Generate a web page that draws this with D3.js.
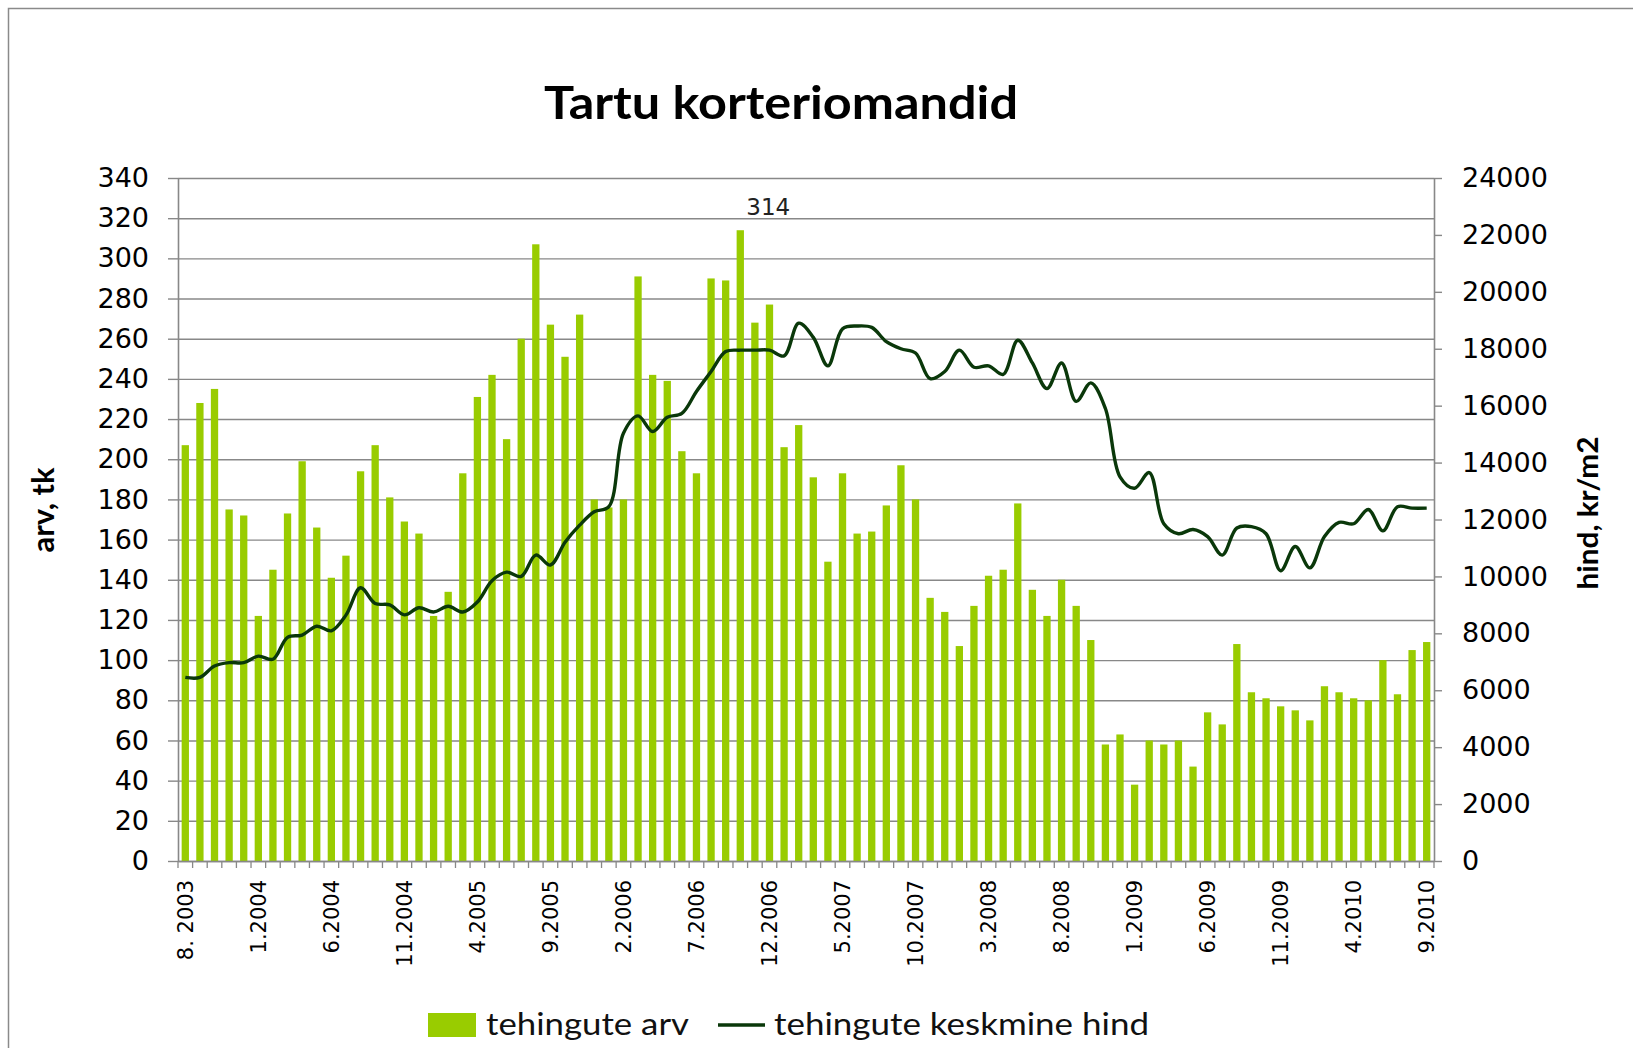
<!DOCTYPE html>
<html><head><meta charset="utf-8">
<script src="https://cdn.jsdelivr.net/npm/d3@7"></script>
<style>body{margin:0;background:#fff}svg{display:block}</style>
</head><body>
<svg id="c" width="1633" height="1048"></svg>
<script>
// ---- data ----
const months = [
 "8. 2003","9.2003","10.2003","11.2003","12.2003",
 "1.2004","2.2004","3.2004","4.2004","5.2004","6.2004","7.2004","8.2004","9.2004","10.2004","11.2004","12.2004",
 "1.2005","2.2005","3.2005","4.2005","5.2005","6.2005","7.2005","8.2005","9.2005","10.2005","11.2005","12.2005",
 "1.2006","2.2006","3.2006","4.2006","5.2006","6.2006","7.2006","8.2006","9.2006","10.2006","11.2006","12.2006",
 "1.2007","2.2007","3.2007","4.2007","5.2007","6.2007","7.2007","8.2007","9.2007","10.2007","11.2007","12.2007",
 "1.2008","2.2008","3.2008","4.2008","5.2008","6.2008","7.2008","8.2008","9.2008","10.2008","11.2008","12.2008",
 "1.2009","2.2009","3.2009","4.2009","5.2009","6.2009","7.2009","8.2009","9.2009","10.2009","11.2009","12.2009",
 "1.2010","2.2010","3.2010","4.2010","5.2010","6.2010","7.2010","8.2010","9.2010"
];
const tickLabels = ["8. 2003","1.2004","6.2004","11.2004","4.2005","9.2005","2.2006","7.2006","12.2006",
 "5.2007","10.2007","3.2008","8.2008","1.2009","6.2009","11.2009","4.2010","9.2010"];
const counts = [
 207,228,235,175,172,122,145,173,199,166,
 141,152,194,207,181,169,163,122,134,193,
 231,242,210,260,307,267,251,272,180,176,
 180,291,242,239,204,193,290,289,314,268,
 277,206,217,191,149,193,163,164,177,197,
 180,131,124,107,127,142,145,178,135,122,
 140,127,110,58,63,38,60,58,60,47,
 74,68,108,84,81,77,75,70,87,84,
 81,80,100,83,105,109
];
const prices = [
 6450,6450,6850,6970,6970,7200,7090,7860,7940,8250,
 8090,8640,9600,9050,9000,8650,8900,8750,8950,8750,
 9100,9850,10150,10000,10750,10400,11200,11800,12270,12450,
 15030,15640,15090,15590,15730,16500,17200,17900,17950,17950,
 17950,17750,18900,18400,17400,18700,18800,18750,18250,18000,
 17850,16950,17200,17950,17350,17400,17100,18300,17500,16600,
 17500,16150,16800,15900,13500,13100,13650,11850,11500,11650,
 11400,10750,11700,11750,11500,10200,11050,10300,11400,11900,
 11850,12350,11600,12450,12400,12400
];
const leftTicks = [0,20,40,60,80,100,120,140,160,180,200,220,240,260,280,300,320,340];
const rightTicks = [0,2000,4000,6000,8000,10000,12000,14000,16000,18000,20000,22000,24000];
const labelledIndex = 38;
const titleText = "Tartu korteriomandid";
const leftTitle = "arv, tk";
const rightTitle = "hind, kr/m2";
const seriesNames = ["tehingute arv","tehingute keskmine hind"];

// ---- layout ----
const W = 1633, H = 1048;
const m = {left:178, right:1434, top:178, bottom:861};
const barColor = "#99cc00", lineColor = "#0a380a", gridColor = "#888888";
const tickFont = "'DejaVu Sans', Verdana, sans-serif";
const textFont = "Lato, 'Open Sans', sans-serif";

const svg = d3.select("#c");
svg.append("rect").attr("width",W).attr("height",H).attr("fill","#fff");
svg.append("rect").attr("x",8.5).attr("y",8.5).attr("width",W).attr("height",H)
  .attr("fill","none").attr("stroke","#8a8a8a").attr("stroke-width",1.5);

const x = d3.scaleBand().domain(months).range([m.left,m.right]).paddingInner(0.5).paddingOuter(0.25);
const xc = d => x(d) + x.bandwidth()/2;
const yL = d3.scaleLinear().domain([0,340]).range([m.bottom,m.top]);
const yR = d3.scaleLinear().domain([0,24000]).range([m.bottom,m.top]);

// gridlines
const grid = svg.append("g").attr("transform",`translate(${m.left},0)`)
  .call(d3.axisLeft(yL).tickValues(leftTicks).tickSize(-(m.right-m.left)).tickFormat(""));
grid.select(".domain").remove();
grid.selectAll("line").attr("stroke",gridColor).attr("stroke-width",1.4);

// left axis
const ax = svg.append("g").attr("transform",`translate(${m.left},0)`)
  .call(d3.axisLeft(yL).tickValues(leftTicks).tickSize(10).tickSizeOuter(0).tickPadding(19));
ax.select(".domain").attr("stroke",gridColor).attr("stroke-width",1.6);
ax.selectAll("line").attr("stroke",gridColor).attr("stroke-width",1.4);
ax.selectAll("text").attr("font-family",tickFont).attr("font-size",27).attr("fill","#000");

// right axis
const ar = svg.append("g").attr("transform",`translate(${m.right},0)`)
  .call(d3.axisRight(yR).tickValues(rightTicks).tickFormat(d3.format("d")).tickSize(8).tickSizeOuter(0).tickPadding(20));
ar.select(".domain").attr("stroke",gridColor).attr("stroke-width",1.6);
ar.selectAll("line").attr("stroke",gridColor).attr("stroke-width",1.4);
ar.selectAll("text").attr("font-family",tickFont).attr("font-size",27).attr("fill","#000");

// bars
svg.append("g").selectAll("rect").data(counts).join("rect")
  .attr("x",(d,i)=>x(months[i])).attr("width",x.bandwidth())
  .attr("y",d=>yL(d)).attr("height",d=>yL(0)-yL(d)).attr("fill",barColor);

// x axis
const bx = svg.append("g").attr("transform",`translate(0,${m.bottom})`)
  .call(d3.axisBottom(x).tickValues(tickLabels).tickSize(0).tickSizeOuter(0));
bx.select(".domain").attr("stroke",gridColor).attr("stroke-width",1.6);
bx.selectAll("text").attr("font-family",tickFont).attr("font-size",21).attr("fill","#000")
  .attr("transform","rotate(-90)").attr("text-anchor","end").attr("x",-19).attr("y",0).attr("dy","0.36em");
// category boundary ticks
const bounds = months.map(d => x(d) - (x.step()-x.bandwidth())/2).concat([m.right]);
svg.append("g").selectAll("line").data(bounds).join("line")
  .attr("x1",d=>d).attr("x2",d=>d).attr("y1",m.bottom).attr("y2",m.bottom+7)
  .attr("stroke",gridColor).attr("stroke-width",1.3);

// line
const line = d3.line().x((d,i)=>xc(months[i])).y(d=>yR(d)).curve(d3.curveCatmullRom.alpha(0.5));
svg.append("path").datum(prices).attr("d",line).attr("fill","none")
  .attr("stroke",lineColor).attr("stroke-width",3.4).attr("stroke-linejoin","round");

// data label
svg.append("text").attr("x",xc(months[labelledIndex])+28).attr("y",yL(counts[labelledIndex])-15)
  .attr("text-anchor","middle").attr("font-family",tickFont).attr("font-size",23).attr("fill","#222")
  .text(counts[labelledIndex]);

// title
svg.append("text").attr("x",781).attr("y",119).attr("text-anchor","middle")
  .attr("font-family",textFont).attr("font-weight","bold").attr("font-size",46)
  .attr("textLength",474).attr("lengthAdjust","spacingAndGlyphs").attr("fill","#000").text(titleText);

// axis titles
svg.append("text").attr("transform","translate(54,510) rotate(-90)").attr("text-anchor","middle")
  .attr("font-family",textFont).attr("font-weight","bold").attr("font-size",30)
  .attr("textLength",85).attr("lengthAdjust","spacingAndGlyphs").text(leftTitle);
svg.append("text").attr("transform","translate(1598,513) rotate(-90)").attr("text-anchor","middle")
  .attr("font-family",textFont).attr("font-weight","bold").attr("font-size",29)
  .attr("textLength",153).attr("lengthAdjust","spacingAndGlyphs").text(rightTitle);

// legend
const lg = svg.append("g");
lg.append("rect").attr("x",428).attr("y",1013).attr("width",48).attr("height",24).attr("fill",barColor);
lg.append("text").attr("x",486).attr("y",1035).attr("font-family",textFont).attr("font-size",31)
  .attr("textLength",203).attr("lengthAdjust","spacingAndGlyphs").attr("fill","#111").text(seriesNames[0]);
lg.append("line").attr("x1",718).attr("x2",765).attr("y1",1025).attr("y2",1025)
  .attr("stroke",lineColor).attr("stroke-width",3.5);
lg.append("text").attr("x",774).attr("y",1035).attr("font-family",textFont).attr("font-size",31)
  .attr("textLength",375).attr("lengthAdjust","spacingAndGlyphs").attr("fill","#111").text(seriesNames[1]);
</script>
</body></html>
